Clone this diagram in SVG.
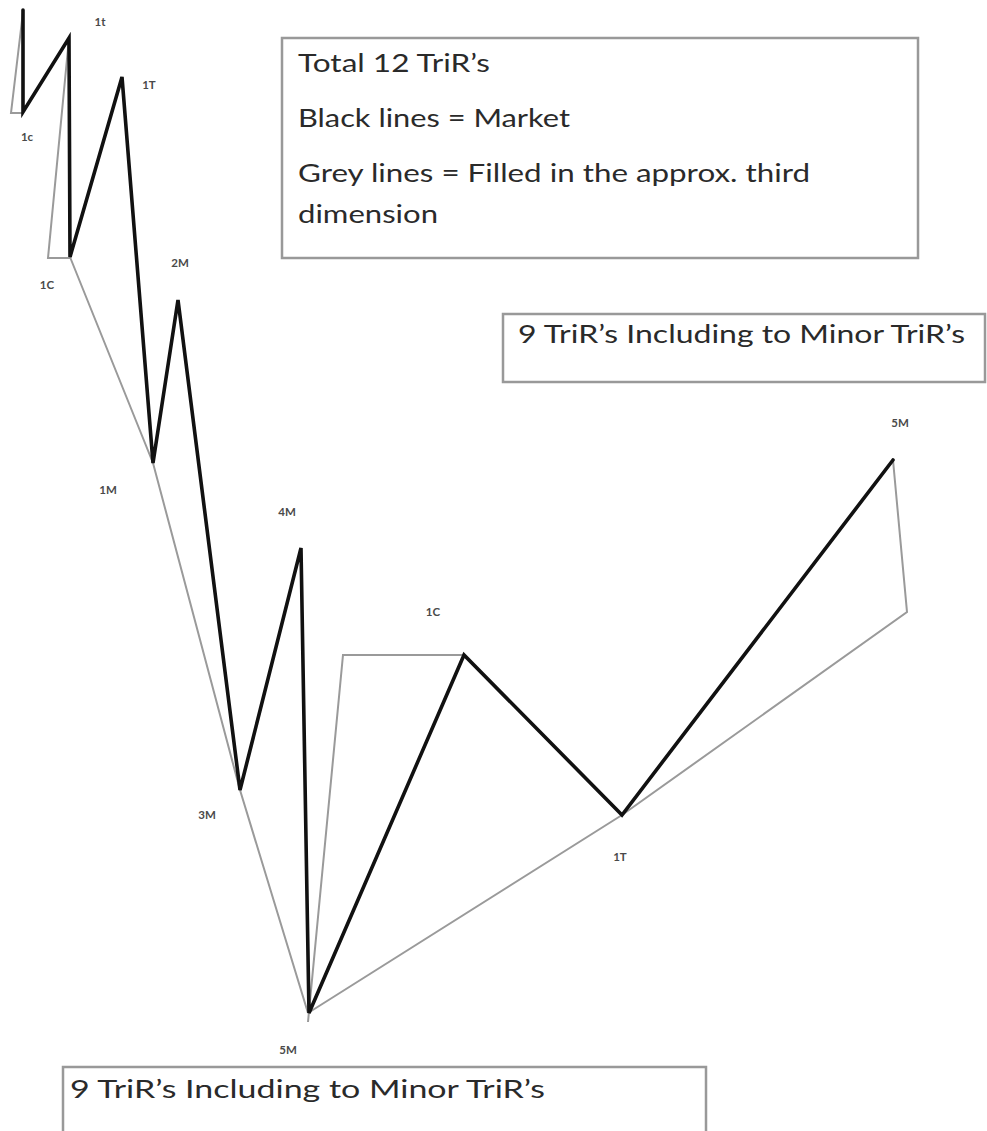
<svg xmlns="http://www.w3.org/2000/svg" width="987" height="1131" viewBox="0 0 987 1131">
<style>
.mk{fill:none;stroke:#111;stroke-width:3.6;stroke-linejoin:miter;stroke-linecap:round}
.gr{fill:none;stroke:#9a9a9a;stroke-width:2;stroke-linejoin:miter}
.box{fill:#fff;stroke:#999;stroke-width:2.5}
.bt{font-family:Lato,"Open Sans",sans-serif;font-size:25px;fill:#2a2a2a}
.lb{font-family:Lato,"Open Sans",sans-serif;font-size:11.5px;font-weight:bold;fill:#4a4a4a;text-anchor:middle}
</style>
<rect width="987" height="1131" fill="#fff"/>
<g id="box-total">
<rect class="box" x="282" y="38" width="636" height="220"/>
<text class="bt" x="298" y="72" textLength="192" lengthAdjust="spacingAndGlyphs">Total 12 TriR’s</text>
<text class="bt" x="298" y="127" textLength="272" lengthAdjust="spacingAndGlyphs">Black lines = Market</text>
<text class="bt" x="298" y="182" textLength="512" lengthAdjust="spacingAndGlyphs">Grey lines = Filled in the approx. third</text>
<text class="bt" x="298" y="223" textLength="140" lengthAdjust="spacingAndGlyphs">dimension</text>
</g>
<g id="box-minor-right">
<rect class="box" x="503" y="314" width="482" height="68"/>
<text class="bt" x="518" y="343" textLength="447" lengthAdjust="spacingAndGlyphs">9 TriR’s Including to Minor TriR’s</text>
</g>
<g id="box-minor-bottom">
<rect class="box" x="63" y="1067" width="643" height="80"/>
<text class="bt" x="70" y="1098" textLength="475" lengthAdjust="spacingAndGlyphs">9 TriR’s Including to Minor TriR’s</text>
</g>
<g id="connectors">
<polyline class="gr" points="23,12 11,113 23,113"/>
<polyline class="gr" points="69,38 48,258 70,258"/>
<polyline class="gr" points="70,257 153,463 240,790 308,1013"/>
<polyline class="gr" points="464,655 343,655 308,1022"/>
<polyline class="gr" points="308,1013 622,815 907,612 893,460"/>
<polyline class="mk" points="23,10 23,112 69,38 70,257 122,77 153,463 178,300 240,790 301,548 309,1013 464,655 622,815 893,460"/>
</g>
<g id="label-1t"><text class="lb" x="100" y="26">1t</text></g>
<g id="label-1T-top"><text class="lb" x="149" y="89">1T</text></g>
<g id="label-1c"><text class="lb" x="27" y="141">1c</text></g>
<g id="label-1C-top"><text class="lb" x="47" y="289">1C</text></g>
<g id="label-2M"><text class="lb" x="180" y="267">2M</text></g>
<g id="label-1M"><text class="lb" x="108" y="494">1M</text></g>
<g id="label-4M"><text class="lb" x="287" y="516">4M</text></g>
<g id="label-3M"><text class="lb" x="207" y="819">3M</text></g>
<g id="label-1C-mid"><text class="lb" x="433" y="616">1C</text></g>
<g id="label-1T-mid"><text class="lb" x="620" y="861">1T</text></g>
<g id="label-5M-bottom"><text class="lb" x="288" y="1054">5M</text></g>
<g id="label-5M-right"><text class="lb" x="900" y="427">5M</text></g>
</svg>
